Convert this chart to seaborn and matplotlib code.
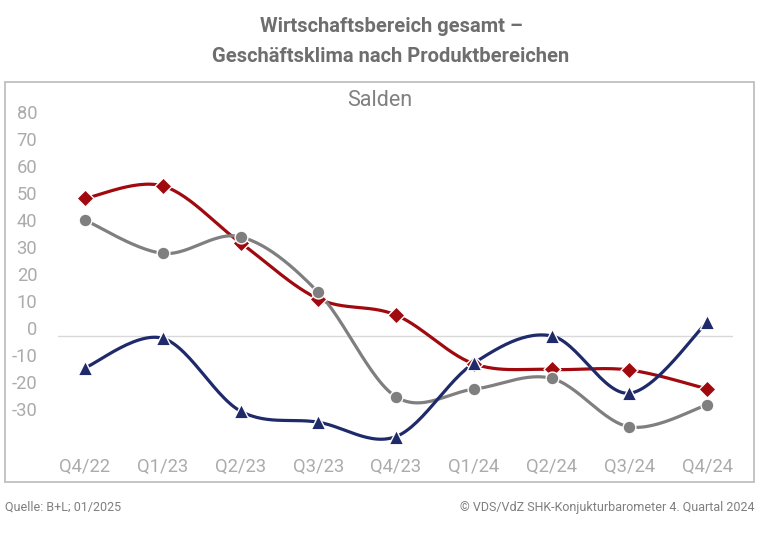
import numpy as np
import pandas as pd
import matplotlib
matplotlib.use("Agg")
import matplotlib.pyplot as plt
import seaborn as sns
from matplotlib.patches import Rectangle

quarters = ["Q4/22", "Q1/23", "Q2/23", "Q3/23", "Q4/23", "Q1/24", "Q2/24", "Q3/24", "Q4/24"]
series_red = [48, 52.6, 31.6, 10.9, 4.9, -13.1, -15.2, -15.4, -22.4]
series_gray = [40, 27.7, 33.8, 13.3, -25.3, -22.5, -18.5, -36.4, -28.3]
series_blue = [-14.6, -3.7, -30.6, -34.7, -40, -12.9, -2.8, -24, 2.2]
y_ticks = [80, 70, 60, 50, 40, 30, 20, 10, 0, -10, -20, -30]
baseline = -2.7

names = ["Reihe 1", "Reihe 2", "Reihe 3"]
colors = {"Reihe 1": "#A00A0F", "Reihe 2": "#7F7F7F", "Reihe 3": "#1F2A6B"}
markers = {"Reihe 1": "D", "Reihe 2": "o", "Reihe 3": "^"}
sizes = {"Reihe 1": 75, "Reihe 2": 85, "Reihe 3": 110}

rows = []
for name, vals in zip(names, [series_red, series_gray, series_blue]):
    for i, (q, v) in enumerate(zip(quarters, vals)):
        rows.append({"Quartal": q, "idx": i, "Saldo": v, "Reihe": name})
df = pd.DataFrame(rows)

sns.set_theme(style="white")
plt.rcParams["font.family"] = ["Roboto", "DejaVu Sans"]

W, H = 760, 535
fig = plt.figure(figsize=(W / 100, H / 100), dpi=100)

ax_l, ax_r = 58, 733
ax_t, ax_b = 100, 450
ax = fig.add_axes([ax_l / W, (H - ax_b) / H, (ax_r - ax_l) / W, (ax_b - ax_t) / H])
ax.set_facecolor("none")

px_per_x = 77.75
x0 = 85
ax.set_xlim((ax_l - x0) / px_per_x, (ax_r - x0) / px_per_x)
zero_y = 328.3
ppu = 2.706
ax.set_ylim((zero_y - ax_b) / ppu, (zero_y - ax_t) / ppu)


def smooth(xs, ys, n=30):
    xs = np.asarray(xs, float)
    ys = np.asarray(ys, float)
    P = np.column_stack([xs, ys])
    Pp = np.vstack([P[0], P, P[-1]])
    out = []
    for i in range(len(P) - 1):
        p0, p1, p2, p3 = Pp[i], Pp[i + 1], Pp[i + 2], Pp[i + 3]
        c1 = p1 + (p2 - p0) / 6
        c2 = p2 - (p3 - p1) / 6
        t = np.linspace(0, 1, n)[:, None]
        seg = (1 - t) ** 3 * p1 + 3 * (1 - t) ** 2 * t * c1 + 3 * (1 - t) * t ** 2 * c2 + t ** 3 * p2
        out.append(seg if i == 0 else seg[1:])
    out = np.vstack(out)
    return out[:, 0], out[:, 1]


ax.axhline(baseline, color="#D9D9D9", lw=1.0, zorder=1)

for name in names:
    sub = df[df["Reihe"] == name]
    sx, sy = smooth(sub["idx"], sub["Saldo"])
    ax.plot(sx, sy, color=colors[name], lw=2.3, zorder=2, solid_capstyle="round")

for name in names:
    sub = df[df["Reihe"] == name]
    sns.scatterplot(data=sub, x="idx", y="Saldo", ax=ax, color=colors[name],
                    marker=markers[name], s=sizes[name], edgecolor="white",
                    linewidth=1.0, zorder=3, legend=False)

ax.set_xticks(range(len(quarters)))
ax.set_xticklabels(quarters)
ax.set_yticks(y_ticks)
ax.set_yticklabels([str(t) for t in y_ticks])
ax.tick_params(axis="both", length=0, labelsize=13.2, labelcolor="#ABABAB")
ax.tick_params(axis="y", pad=15)
ax.tick_params(axis="x", pad=6)
ax.set_xlabel("")
ax.set_ylabel("")
for s in ax.spines.values():
    s.set_visible(False)

fig.patches.append(Rectangle((5 / W, (H - 482) / H), (754 - 5) / W, (482 - 82) / H,
                             transform=fig.transFigure, fill=False,
                             edgecolor="#BFBFBF", lw=1.3))

fig.text(380 / W, 1 - 100 / H, "Salden", ha="center", va="center",
         fontsize=15.5, color="#808080")

fig.text(391 / W, 1 - 27 / H, "Wirtschaftsbereich gesamt –", ha="center", va="center",
         fontsize=14.5, fontweight="bold", color="#6E6E6E")
fig.text(391 / W, 1 - 56 / H, "Geschäftsklima nach Produktbereichen", ha="center", va="center",
         fontsize=14.5, fontweight="bold", color="#6E6E6E")

fig.text(5 / W, 1 - 507 / H, "Quelle: B+L; 01/2025", ha="left", va="center",
         fontsize=9.0, color="#7F7F7F")
fig.text(755 / W, 1 - 507 / H, "© VDS/VdZ SHK-Konjukturbarometer 4. Quartal 2024",
         ha="right", va="center", fontsize=9.0, color="#7F7F7F")

fig.savefig("out.png", dpi=100)
